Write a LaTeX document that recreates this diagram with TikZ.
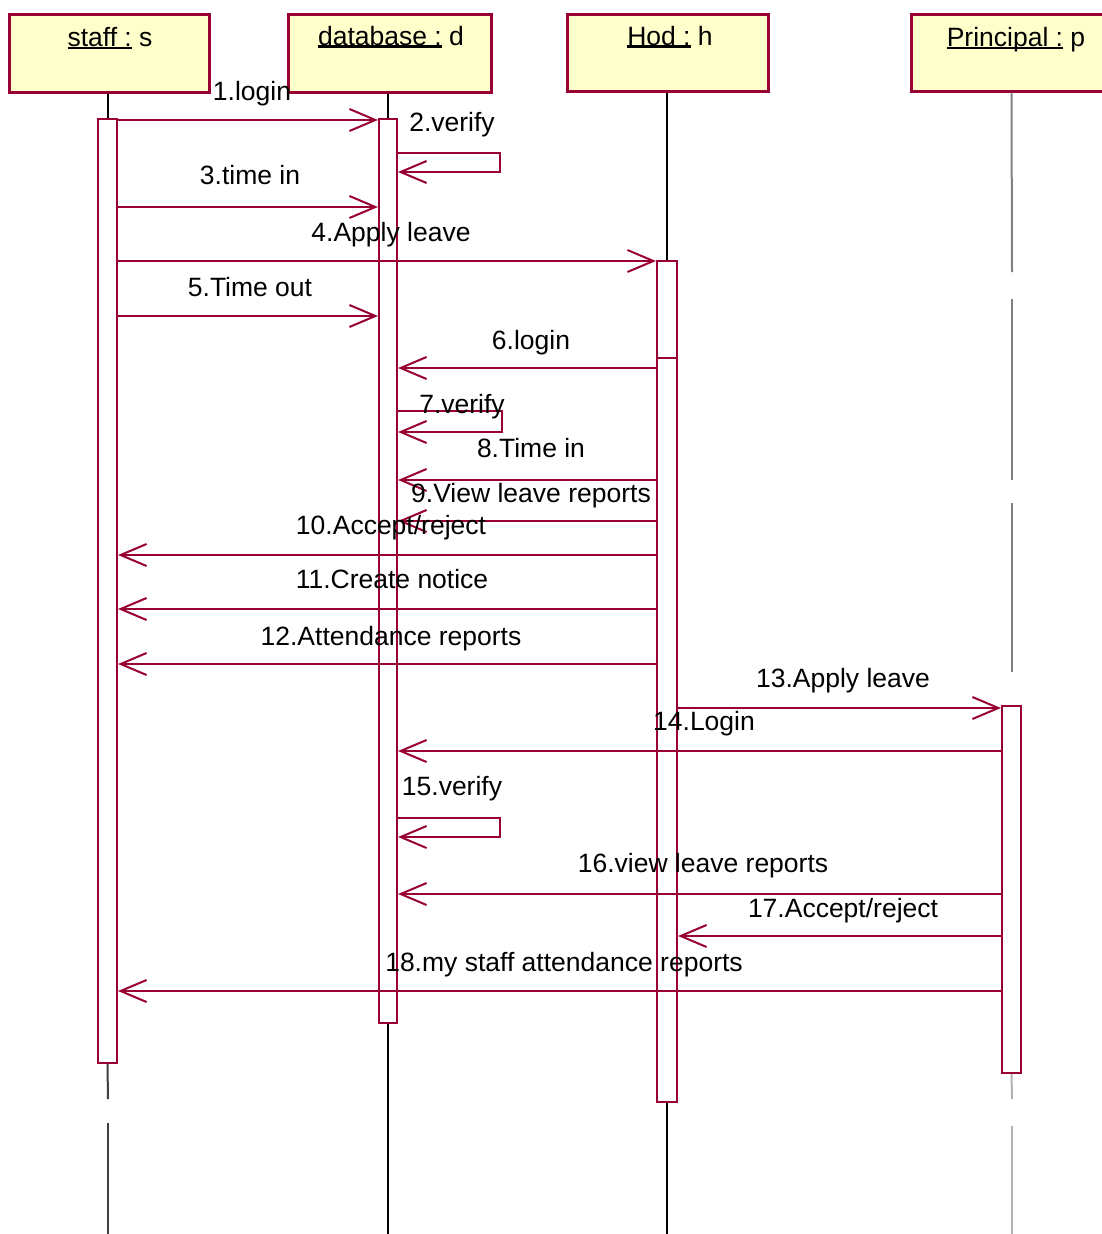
\documentclass[tikz,border=0pt]{standalone}
\usepackage{fontspec}
\setmainfont{Liberation Sans}
\usetikzlibrary{arrows.meta}
\definecolor{crim}{HTML}{990033}
\definecolor{boxfill}{HTML}{FFFFCC}
\definecolor{lifegray}{HTML}{808080}
\newcommand\myul[1]{\setbox0\hbox{#1}\rlap{\rule[-3pt]{\wd0}{2.5pt}}\box0\relax}
\begin{document}
\begin{tikzpicture}[x=1pt,y=-1pt,
  hdr/.style={draw=crim, line width=2.5pt, fill=boxfill, minimum width=#1, minimum height=78pt, inner sep=0pt, anchor=north west},
  hdrtxt/.style={font=\fontsize{26.5}{30}\selectfont, inner sep=0pt, anchor=base, text=black},
  lbl/.style={font=\fontsize{26.5}{30}\selectfont, inner sep=0pt, anchor=base, text=black},
  actbar/.style={draw=crim, line width=2pt, fill=white, minimum width=#1, inner sep=0pt, anchor=north},
  life/.style={draw=black, line width=2pt},
  plife/.style={draw=lifegray, line width=2pt},
  msg/.style={draw=crim, line width=2pt, -{Straight Barb[length=26pt,width=22pt]}}
]
\useasboundingbox (0,0) rectangle (1102,1234);

% header boxes
\node[hdr=200pt] (hs) at (8,13) {};
\node[hdr=203pt] (hd) at (287,13) {};
\node[hdr=201pt, minimum height=77pt] (hh) at (566,13) {};
\node[hdr=205pt, minimum height=77pt] (hp) at (910,13) {};
\node[hdrtxt] (ts) at (110,46) {\myul{staff :}\ s};
\node[hdrtxt] (td) at (391,45) {\myul{database :}\ d};
\node[hdrtxt] (th) at (670,45) {\myul{Hod :}\ h};
\node[hdrtxt] (tp) at (1016,46) {\myul{Principal :}\ p};

% activation bars
\node[actbar=19pt, minimum height=944pt] (sbar) at (107.5,118) {};
\node[actbar=18pt, minimum height=904pt] (dbar) at (388,118) {};
\node[actbar=20pt, minimum height=841pt] (hbar) at (667,260) {};
\node[actbar=19pt, minimum height=367pt] (pbar) at (1011.5,705) {};
\draw[crim, line width=2pt] (hbar.west |- 0,358) -- (hbar.east |- 0,358);

% lifelines
\coordinate (sg1) at (108,1099);
\coordinate (sg2) at (108,1123);
\coordinate (send) at (108,1234);
\coordinate (dend) at (388,1234);
\coordinate (hend) at (667,1234);
\draw[life] (sbar.north |- hs.south) -- (sbar.north);
\draw[draw=black!75, line width=2pt] (sbar.south) -- (sg1);
\draw[draw=black!75, line width=2pt] (sg2) -- (send);
\draw[life] (dbar.north |- hd.south) -- (dbar.north);
\draw[life] (dbar.south) -- (dend);
\draw[life] (hbar.north |- hh.south) -- (hbar.north);
\draw[life] (hbar.south) -- (hend);
\coordinate (p1) at (1012,272);
\coordinate (p2) at (1012,299);
\coordinate (p3) at (1012,480);
\coordinate (p4) at (1012,503);
\coordinate (p5) at (1012,672);
\coordinate (p6) at (1012,1099);
\coordinate (p7) at (1012,1126);
\coordinate (p8) at (1012,1234);
\draw[plife] (pbar.north |- hp.south) -- (p1);
\draw[plife] (p2) -- (p3);
\draw[plife] (p4) -- (p5);
\draw[draw=black!30, line width=2pt] (pbar.south) -- (p6);
\draw[draw=black!30, line width=2pt] (p7) -- (p8);

% self-call corners
\coordinate (v2) at (500,172);
\coordinate (v7) at (502,432);
\coordinate (v15) at (500,837);

% messages
\draw[msg] (sbar.east |- 0,120) -- (dbar.west |- 0,120);
\draw[msg] (dbar.east |- 0,153) -| (v2) -- (dbar.east |- v2);
\draw[msg] (sbar.east |- 0,207) -- (dbar.west |- 0,207);
\draw[msg] (sbar.east |- 0,261) -- (hbar.west |- 0,261);
\draw[msg] (sbar.east |- 0,316) -- (dbar.west |- 0,316);
\draw[msg] (hbar.west |- 0,368) -- (dbar.east |- 0,368);
\draw[msg] (dbar.east |- 0,411) -| (v7) -- (dbar.east |- v7);
\draw[msg] (hbar.west |- 0,480) -- (dbar.east |- 0,480);
\draw[msg] (hbar.west |- 0,521) -- (dbar.east |- 0,521);
\draw[msg] (hbar.west |- 0,555) -- (sbar.east |- 0,555);
\draw[msg] (hbar.west |- 0,609) -- (sbar.east |- 0,609);
\draw[msg] (hbar.west |- 0,664) -- (sbar.east |- 0,664);
\draw[msg] (hbar.east |- 0,708) -- (pbar.west |- 0,708);
\draw[msg] (pbar.west |- 0,751) -- (dbar.east |- 0,751);
\draw[msg] (dbar.east |- 0,818) -| (v15) -- (dbar.east |- v15);
\draw[msg] (pbar.west |- 0,894) -- (dbar.east |- 0,894);
\draw[msg] (pbar.west |- 0,936) -- (hbar.east |- 0,936);
\draw[msg] (pbar.west |- 0,991) -- (sbar.east |- 0,991);

% labels
\node[lbl] (l1) at (252,100) {1.login};
\node[lbl] (l2) at (452,131) {2.verify};
\node[lbl] (l3) at (250,184) {3.time in};
\node[lbl] (l4) at (391,241) {4.Apply leave};
\node[lbl] (l5) at (250,296) {5.Time out};
\node[lbl] (l6) at (531,349) {6.login};
\node[lbl] (l7) at (462,413) {7.verify};
\node[lbl] (l8) at (531,457) {8.Time in};
\node[lbl] (l9) at (531,502) {9.View leave reports};
\node[lbl] (l10) at (391,534) {10.Accept/reject};
\node[lbl] (l11) at (392,588) {11.Create notice};
\node[lbl] (l12) at (391,645) {12.Attendance reports};
\node[lbl] (l13) at (843,687) {13.Apply leave};
\node[lbl] (l14) at (704,730) {14.Login};
\node[lbl] (l15) at (452,795) {15.verify};
\node[lbl] (l16) at (703,872) {16.view leave reports};
\node[lbl] (l17) at (843,917) {17.Accept/reject};
\node[lbl] (l18) at (564,971) {18.my staff attendance reports};
\end{tikzpicture}
\end{document}
